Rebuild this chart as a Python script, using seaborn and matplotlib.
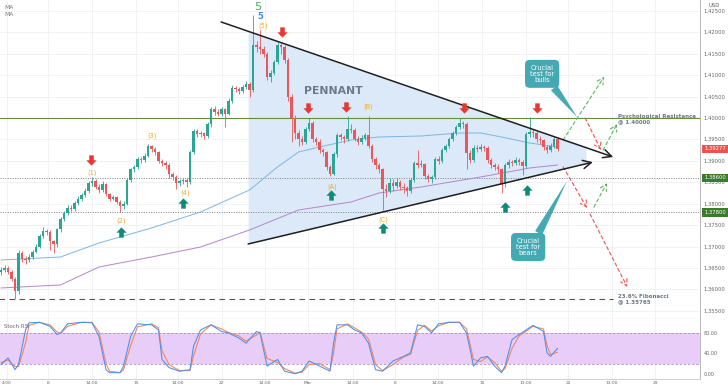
import numpy as np
import matplotlib
matplotlib.use("Agg")
import matplotlib.pyplot as plt
from matplotlib.path import Path
import matplotlib.transforms as mtrans
import seaborn as sns

# 4H candles, prices in pips (3645 -> 1.3645)
first_open = 3640
closes = [3645, 3650, 3641, 3625, 3597, 3685, 3672, 3668, 3676, 3688,
          3700, 3725, 3737, 3735, 3712, 3705, 3740, 3765, 3778, 3790,
          3788, 3802, 3812, 3820, 3830, 3848, 3853, 3840, 3832, 3845,
          3822, 3812, 3815, 3805, 3795, 3800, 3855, 3880, 3885, 3905,
          3903, 3912, 3935, 3928, 3920, 3900, 3895, 3890, 3870, 3862,
          3848, 3852, 3855, 3850, 3920, 3970, 3962, 3965, 3958, 3985,
          4020, 4015, 4010, 4020, 4010, 4040, 4070, 4068, 4062, 4072,
          4080, 4065, 4170, 4165, 4160, 4150, 4095, 4105, 4130, 4170,
          4165, 4135, 4050, 4000, 3965, 3950, 3945, 3975, 3988, 3950,
          3945, 3925, 3920, 3885, 3870, 3915, 3960, 3955, 3950, 3975,
          3972, 3952, 3945, 3953, 3960, 3935, 3905, 3890, 3880, 3835,
          3830, 3848, 3842, 3850, 3840, 3836, 3830, 3855, 3895, 3890,
          3893, 3865, 3857, 3862, 3905, 3900, 3925, 3935, 3950, 3965,
          3978, 3988, 3985, 3918, 3902, 3930, 3928, 3932, 3930, 3902,
          3890, 3886, 3880, 3845, 3890, 3897, 3895, 3902, 3898, 3888,
          3962, 3968, 3965, 3952, 3948, 3932, 3925, 3935, 3950, 3928]
highs = [3652, 3656, 3655, 3645, 3628, 3692, 3690, 3678, 3682, 3692,
         3706, 3730, 3745, 3742, 3738, 3716, 3744, 3770, 3784, 3796,
         3796, 3806, 3818, 3825, 3836, 3852, 3862, 3858, 3845, 3852,
         3848, 3826, 3820, 3818, 3808, 3806, 3860, 3884, 3890, 3910,
         3910, 3918, 3940, 3938, 3932, 3924, 3905, 3900, 3894, 3875,
         3866, 3858, 3860, 3860, 3925, 3975, 3974, 3970, 3968, 3990,
         4026, 4028, 4022, 4025, 4024, 4046, 4076, 4075, 4072, 4078,
         4086, 4084, 4240, 4180, 4205, 4168, 4155, 4112, 4136, 4178,
         4176, 4170, 4140, 4055, 4008, 3972, 3958, 3980, 4000, 3992,
         3956, 3950, 3930, 3924, 3890, 3920, 3965, 3966, 3960, 4005,
         3985, 3976, 3958, 3960, 3966, 4005, 3940, 3910, 3896, 3884,
         3845, 3860, 3858, 3860, 3856, 3848, 3842, 3860, 3900, 3925,
         3902, 3896, 3870, 3868, 3910, 3912, 3930, 3940, 3955, 3970,
         3984, 4000, 3994, 3990, 3925, 3936, 3938, 3940, 3938, 3934,
         3906, 3896, 3892, 3884, 3895, 3904, 3902, 3908, 3906, 3902,
         3968, 4002, 3975, 3970, 3958, 3952, 3938, 3942, 3956, 3955]
lows = [3634, 3640, 3636, 3620, 3578, 3590, 3665, 3660, 3664, 3672,
        3684, 3696, 3720, 3726, 3692, 3686, 3700, 3735, 3760, 3774,
        3782, 3784, 3798, 3806, 3815, 3826, 3842, 3835, 3826, 3828,
        3818, 3806, 3808, 3800, 3780, 3788, 3796, 3850, 3874, 3880,
        3896, 3898, 3908, 3920, 3914, 3895, 3888, 3880, 3860, 3856,
        3835, 3842, 3846, 3838, 3845, 3915, 3955, 3956, 3950, 3954,
        3980, 4008, 4004, 4005, 3978, 4006, 4036, 4060, 4056, 4058,
        4068, 4050, 4060, 4155, 4150, 4142, 4088, 4085, 4100, 4125,
        4150, 4128, 4040, 3945, 3950, 3935, 3938, 3940, 3970, 3944,
        3938, 3918, 3912, 3878, 3865, 3866, 3910, 3948, 3942, 3946,
        3965, 3946, 3938, 3940, 3948, 3930, 3898, 3882, 3872, 3785,
        3815, 3826, 3830, 3836, 3832, 3825, 3818, 3826, 3850, 3884,
        3885, 3858, 3850, 3848, 3858, 3892, 3896, 3920, 3930, 3946,
        3960, 3974, 3976, 3880, 3895, 3898, 3920, 3922, 3922, 3896,
        3884, 3878, 3872, 3826, 3840, 3884, 3888, 3890, 3890, 3868,
        3884, 3955, 3956, 3945, 3940, 3925, 3918, 3920, 3930, 3922]

# moving averages
ma1_idx = [0, 17, 28, 43, 57, 71, 79, 85, 91, 100, 108, 120, 131, 137, 143, 151, 159]
ma1_val = [1.36687, 1.36757, 1.37083, 1.37434, 1.37807, 1.38320, 1.38857, 1.39207, 1.39323,
           1.39487, 1.39557, 1.39580, 1.39650, 1.39650, 1.39557, 1.39417, 1.39323]
ma2_idx = [0, 17, 28, 43, 57, 71, 85, 100, 108, 120, 137, 151, 159]
ma2_val = [1.36034, 1.36104, 1.36524, 1.36757, 1.36990, 1.37387, 1.37853, 1.38040, 1.38250,
           1.38390, 1.38623, 1.38833, 1.38903]

# stoch RSI
st_idx = [0, 2, 4, 5, 7, 8, 11, 14, 16, 17, 19, 23, 26, 28, 30, 31, 34, 35, 37, 39,
          43, 45, 46, 48, 51, 54, 55, 57, 60, 63, 65, 68, 70, 73, 74, 76, 79, 81, 84, 86,
          88, 91, 94, 95, 96, 99, 101, 103, 105, 107, 109, 112, 114, 115, 117, 119, 121, 123, 125, 128,
          131, 133, 135, 137, 139, 141, 143, 144, 146, 148, 152, 155, 156, 157, 159]
st_k = [18, 31, 8, 18, 86, 100, 101, 93, 77, 80, 98, 101, 100, 73, 8, 2, 2, 15, 73, 98,
        96, 86, 28, 12, 5, 8, 54, 86, 96, 83, 80, 70, 60, 83, 80, 15, 28, 5, 0, 5,
        25, 15, 5, 60, 96, 96, 86, 80, 60, 8, 5, 25, 31, 34, 41, 96, 93, 80, 98, 101,
        101, 80, 15, 31, 34, 15, 2, 15, 67, 77, 95, 83, 41, 34, 50]
st_d = [22, 27, 14, 14, 60, 95, 101, 96, 82, 79, 93, 101, 101, 82, 20, 5, 2, 8, 55, 92,
        98, 90, 45, 18, 6, 6, 35, 78, 96, 88, 81, 74, 64, 76, 82, 30, 22, 10, 1, 3,
        18, 20, 8, 40, 88, 98, 90, 82, 68, 18, 6, 18, 28, 33, 38, 85, 95, 84, 94, 101,
        101, 88, 28, 24, 33, 22, 5, 10, 50, 74, 93, 88, 55, 38, 42]

xt_pos = [1.7, 13.4, 26, 38.6, 50.6, 63.1, 75.4, 87.7, 100.6, 112.6, 124.9, 137.4, 150, 162, 174.6, 186.9]
xt_lab = ["4:00", "8", "14:00", "15", "14:00", "22", "14:00", "Mar", "14:00", "8", "14:00", "15",
          "13:00", "22", "13:00", "29"]

# chart markup
upper_line = [(62.9, 1.4224), (174.9, 1.3909)]
lower_line = [(70.6, 1.3706), (169.1, 1.3897)]
shade_x = [70.6, 167.1]
wave_txt = ["(1)", "(2)", "(3)", "(4)", "(5)", "(A)", "(B)", "(C)"]
wave_idx = [26.0, 34.3, 43.1, 52.6, 74.9, 94.6, 104.9, 109.1]
wave_px = [1.3872, 1.3760, 1.3958, 1.3825, 1.4215, 1.3839, 1.4026, 1.3762]
red_arr_idx = [25.7, 80.3, 87.7, 98.6, 132.3, 153.1]
red_arr_px = [1.3902, 1.4201, 1.4023, 1.4026, 1.4023, 1.4023]
grn_arr_idx = [34.3, 52.0, 94.3, 109.1, 144.0, 150.3]
grn_arr_px = [1.3734, 1.3802, 1.3820, 1.3743, 1.3792, 1.3832]
proj_green = [((160.6, 1.3949), (172.3, 1.4096)), ((172.0, 1.3925), (176.0, 1.3986)),
              ((169.4, 1.3792), (173.1, 1.3848))]
proj_red = [((166.9, 1.4000), (171.4, 1.3925)), ((160.6, 1.3886), (167.4, 1.3790)),
            ((168.3, 1.3776), (178.9, 1.3606))]

GREEN = '#2aa596'
RED = '#e9575a'
TEAL = '#45a9b4'
GREY_TXT = '#6b7785'

sns.set_style("white")
plt.rcParams['font.family'] = ['DejaVu Sans']

fig = plt.figure(figsize=(7.28, 3.91), dpi=100)
ax = fig.add_axes([0, 72 / 391, 700 / 728, 319 / 391])
ax2 = fig.add_axes([0, 12 / 391, 700 / 728, 60 / 391])

# candles
n = len(closes)
idx = np.arange(n)
c = np.array(closes) / 1e4 + 1
o = np.r_[first_open, closes[:-1]] / 1e4 + 1
hi = np.array(highs) / 1e4 + 1
lo = np.array(lows) / 1e4 + 1
col = np.where(c >= o, GREEN, RED)
ax.vlines(idx, lo, hi, colors=col, lw=0.6, zorder=4)
ax.bar(idx, np.maximum(np.abs(c - o), 0.00005), bottom=np.minimum(o, c), width=0.62,
       color=col, linewidth=0, zorder=5)

# pennant shading + lines
ux, uy = zip(*upper_line)
lx, ly = zip(*lower_line)
ax.fill_between(shade_x, np.interp(shade_x, lx, ly), np.interp(shade_x, ux, uy),
                color='#dce9f8', lw=0, zorder=1)
for line in (upper_line, lower_line):
    ax.annotate('', xy=line[1], xytext=line[0], zorder=7,
                arrowprops=dict(arrowstyle='->,head_length=0.6,head_width=0.3', color='#1f1f1f',
                                lw=1.1, shrinkA=0, shrinkB=0))

# moving averages
sns.lineplot(x=ma1_idx, y=ma1_val, ax=ax, color='#7db6e2', lw=0.7, zorder=3)
sns.lineplot(x=ma2_idx, y=ma2_val, ax=ax, color='#b585c9', lw=0.7, zorder=3)

# levels
ax.axhline(1.40000, color='#5e8f3e', lw=0.8, zorder=2)
ax.axhline(1.38600, color='#808080', lw=0.7, ls=(0, (1, 1.5)), zorder=2)
ax.axhline(1.37800, color='#808080', lw=0.7, ls=(0, (1, 1.5)), zorder=2)
ax.hlines(1.35765, -1, 174.9, color='#555555', lw=0.8, ls=(0, (5, 4)), zorder=2)

ax.text(176.3, 1.39980, "Psychological Resistance\n@ 1.40000", fontsize=4.0, fontweight='bold',
        color=GREY_TXT, ha='left', va='center', linespacing=1.0, zorder=8)
ax.text(176.3, 1.35777, "23.6% Fibonacci\n@ 1.35765", fontsize=4.0, fontweight='bold',
        color=GREY_TXT, ha='left', va='center', linespacing=1.0, zorder=8)
ax.text(95, 1.4064, "PENNANT", fontsize=7.8, fontweight='bold', color='#6b7b8c',
        ha='center', va='center', zorder=8)

# wave counts
for t, xi, yi in zip(wave_txt, wave_idx, wave_px):
    ax.text(xi, yi, t, fontsize=4.8, color='#f5a623', ha='center', va='center', zorder=8)
ax.text(73.4, 1.4259, "5", fontsize=8.2, color='#4caf50', ha='center', va='center', zorder=8)
ax.text(74.0, 1.4236, "5", fontsize=6, fontweight='bold', color='#2f8fe8', ha='center',
        va='center', zorder=8)

# block arrows
down_arrow = Path([(-0.22, 0.5), (0.22, 0.5), (0.22, 0.02), (0.5, 0.02), (0, -0.5),
                   (-0.5, 0.02), (-0.22, 0.02), (-0.22, 0.5)],
                  [Path.MOVETO] + [Path.LINETO] * 6 + [Path.CLOSEPOLY])
up_arrow = Path(down_arrow.vertices * [1, -1], down_arrow.codes)
ax.scatter(red_arr_idx, red_arr_px, marker=down_arrow, s=55, color='#e53935', lw=0, zorder=8)
ax.scatter(grn_arr_idx, grn_arr_px, marker=up_arrow, s=55, color='#0e8a77', lw=0, zorder=8)

# projected paths
for segs, cc in ((proj_green, '#5cb85c'), (proj_red, '#ef5350')):
    for a, b in segs:
        ax.annotate('', xy=b, xytext=a, zorder=6,
                    arrowprops=dict(arrowstyle='->,head_length=0.45,head_width=0.25', color=cc,
                                    lw=0.8, linestyle=(0, (3, 2.5)), shrinkA=0, shrinkB=0))

# callouts
ax.annotate("Crucial\ntest for\nbulls", xy=(164.6, 1.4002), xytext=(154.6, 1.4103),
            ha='center', va='center', color='white', fontsize=4.8, linespacing=1.0, zorder=9,
            bbox=dict(boxstyle='round,pad=0.75,rounding_size=0.7', fc=TEAL, ec='none'),
            arrowprops=dict(arrowstyle='wedge,tail_width=1.2,shrink_factor=0.5', fc=TEAL,
                            ec='none', relpos=(0.8, 0.05), shrinkA=0, shrinkB=0))
ax.annotate("Crucial\ntest for\nbears", xy=(161.7, 1.3853), xytext=(150.6, 1.3699),
            ha='center', va='center', color='white', fontsize=4.8, linespacing=1.0, zorder=9,
            bbox=dict(boxstyle='round,pad=0.75,rounding_size=0.7', fc=TEAL, ec='none'),
            arrowprops=dict(arrowstyle='wedge,tail_width=1.2,shrink_factor=0.5', fc=TEAL,
                            ec='none', relpos=(0.8, 0.95), shrinkA=0, shrinkB=0))

# axes styling (main)
ax.set_xlim(-0.29, 199.7)
ax.set_ylim(1.35310, 1.42753)
ax.set_xticks(xt_pos)
ax.set_yticks(np.arange(1.355, 1.4251, 0.005))
ax.yaxis.tick_right()
ax.set_yticklabels([f"{v:.5f}" for v in np.arange(1.355, 1.4251, 0.005)])
ax.tick_params(axis='y', length=0, labelsize=3.8, colors='#666666', pad=2.5)
ax.tick_params(axis='x', length=0, labelbottom=False)
ax.grid(True, color='#eef1f4', lw=0.6)
ax.set_axisbelow(True)
for s in ('top', 'left'):
    ax.spines[s].set_visible(False)
ax.spines['right'].set_color('#b8b8b8')
ax.spines['bottom'].set_color('#8c8c8c')
ax.spines['right'].set_linewidth(0.7)
ax.spines['bottom'].set_linewidth(0.8)
ax.set_xlabel('')
ax.set_ylabel('')

blend = mtrans.blended_transform_factory(ax.transAxes, ax.transData)
for txt, yv, fc in (("1.39277", 1.39277, '#ef5350'), ("1.38600", 1.38600, '#3c7a2c'),
                    ("1.37800", 1.37800, '#3c7a2c')):
    ax.text(1.006, yv, txt, transform=blend, fontsize=3.8, color='white', ha='left',
            va='center', clip_on=False, zorder=10,
            bbox=dict(boxstyle='square,pad=0.35', fc=fc, ec='none'))
ax.text(1.02, 1.4262, "USD", transform=blend, fontsize=3.8, color='#555555', ha='center',
        va='center', clip_on=False)
ax.text(0.006, 0.978, "MA", transform=ax.transAxes, fontsize=4.3, color='#777777', va='center')
ax.text(0.006, 0.953, "MA", transform=ax.transAxes, fontsize=4.3, color='#777777', va='center')

# stoch panel
ax2.axhspan(20, 80, color='#e7cdf8', lw=0, zorder=1)
ax2.axhline(80, color='#a88fc0', lw=0.6, ls=(0, (3, 2)), zorder=2)
ax2.axhline(20, color='#a88fc0', lw=0.6, ls=(0, (3, 2)), zorder=2)
sns.lineplot(x=st_idx, y=st_d, ax=ax2, color='#f0845c', lw=0.75, zorder=3)
sns.lineplot(x=st_idx, y=st_k, ax=ax2, color='#4f8ee6', lw=0.75, zorder=4)
ax2.set_xlim(-0.29, 199.7)
ax2.set_ylim(-10.4, 107.5)
ax2.set_xticks(xt_pos)
ax2.set_xticklabels(xt_lab)
ax2.set_yticks([0, 40, 80])
ax2.set_yticklabels(["0.00", "40.00", "80.00"])
ax2.yaxis.tick_right()
ax2.tick_params(axis='y', length=0, labelsize=3.5, colors='#666666', pad=2.5)
ax2.tick_params(axis='x', length=0, labelsize=3.2, colors='#666666', pad=1.5)
ax2.grid(True, axis='x', color='#eef1f4', lw=0.6)
ax2.set_axisbelow(True)
for s in ('top', 'left'):
    ax2.spines[s].set_visible(False)
ax2.spines['right'].set_color('#b8b8b8')
ax2.spines['bottom'].set_color('#c8c8c8')
ax2.spines['right'].set_linewidth(0.7)
ax2.spines['bottom'].set_linewidth(0.6)
ax2.set_xlabel('')
ax2.set_ylabel('')
ax2.text(0.006, 0.883, "Stoch RSI", transform=ax2.transAxes, fontsize=3.9, color='#666666',
         va='center')

fig.savefig('out.png', dpi=100)
